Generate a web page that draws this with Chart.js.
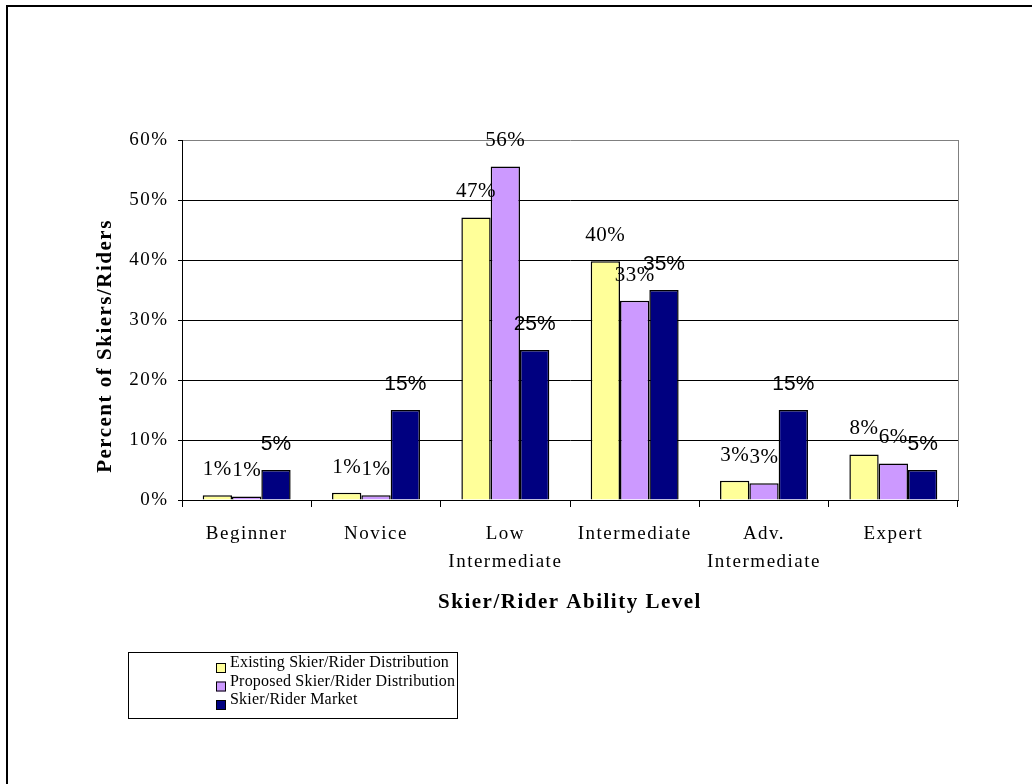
<!DOCTYPE html>
<html>
<head>
<meta charset="utf-8">
<script src="https://cdn.jsdelivr.net/npm/chart.js@4.4.1/dist/chart.umd.min.js"></script>
<style>
  html, body { margin: 0; padding: 0; background: #fff; }
  canvas { display: block; }
</style>
</head>
<body>
<canvas id="chart" width="1032" height="784"></canvas>
<script>
const categories = ['Beginner', 'Novice', ['Low', 'Intermediate'], 'Intermediate', ['Adv.', 'Intermediate'], 'Expert'];
const seriesNames = ['Existing Skier/Rider Distribution', 'Proposed Skier/Rider Distribution', 'Skier/Rider Market'];
const existing = [0.8, 1.2, 47.1, 39.8, 3.2, 7.6];
const proposed = [0.6, 0.8, 55.6, 33.2, 2.8, 6.1];
const market = [5, 15, 25, 35, 15, 5];
const yTicks = [0, 10, 20, 30, 40, 50, 60];
const colors = ['#FFFF99', '#CC99FF', '#000080'];

const SERIF = '"Liberation Serif", "Times New Roman", serif';
const SANS = '"Liberation Sans", Arial, sans-serif';

// labels, legend box, frame and y title drawn on top of the chart
const decorations = {
  id: 'decorations',
  beforeDraw(chart) {
    chart.ctx.letterSpacing = '1.5px';
  },
  afterDatasetsDraw(chart) {
    const ctx = chart.ctx;
    ctx.save();
    ctx.textAlign = 'center';
    ctx.textBaseline = 'alphabetic';
    ctx.fillStyle = '#000';
    chart.data.datasets.forEach((ds, i) => {
      const meta = chart.getDatasetMeta(i);
      ctx.font = i === 2 ? '21px ' + SANS : '21px ' + SERIF;
      ctx.letterSpacing = i === 2 ? '0px' : '0.5px';
      meta.data.forEach((bar, j) => {
        ctx.fillText(Math.round(ds.data[j]) + '%', bar.x, bar.y - 20);
      });
    });
    ctx.restore();
  },
  afterDraw(chart) {
    const ctx = chart.ctx;
    const area = chart.chartArea;
    ctx.save();
    // gray right border of plot
    ctx.strokeStyle = '#808080';
    ctx.lineWidth = 1;
    ctx.beginPath();
    ctx.moveTo(area.right + 0.5, area.top);
    ctx.lineTo(area.right + 0.5, area.bottom);
    ctx.stroke();

    // y axis title
    ctx.fillStyle = '#000';
    ctx.font = 'bold 21px ' + SERIF;
    ctx.letterSpacing = '1.5px';
    ctx.textAlign = 'center';
    ctx.textBaseline = 'middle';
    ctx.translate(106, 346);
    ctx.rotate(-Math.PI / 2);
    ctx.fillText('Percent of Skiers/Riders', 0, 0);
    ctx.setTransform(1, 0, 0, 1, 0, 0);

    // legend
    ctx.strokeStyle = '#000';
    ctx.strokeRect(128.5, 652.5, 329, 66);
    ctx.font = '16px ' + SERIF;
    ctx.letterSpacing = '0.2px';
    ctx.textAlign = 'left';
    ctx.textBaseline = 'alphabetic';
    seriesNames.forEach((name, i) => {
      const cy = 668 + i * 18.5;
      ctx.fillStyle = colors[i];
      ctx.fillRect(216, cy - 5, 10, 10);
      ctx.strokeRect(216.5, cy - 4.5, 9, 9);
      ctx.fillStyle = '#000';
      ctx.fillText(name, 230, cy - 1);
    });

    // outer frame
    ctx.fillStyle = '#000';
    ctx.fillRect(6, 5, 1026, 2);
    ctx.fillRect(6, 5, 2, 779);
    ctx.restore();
  }
};

new Chart(document.getElementById('chart'), {
  type: 'bar',
  data: {
    labels: categories,
    datasets: [
      { label: seriesNames[0], data: existing, backgroundColor: colors[0] },
      { label: seriesNames[1], data: proposed, backgroundColor: colors[1] },
      { label: seriesNames[2], data: market, backgroundColor: colors[2] }
    ].map(d => Object.assign(d, {
      borderColor: '#000',
      borderWidth: 1.5,
      categoryPercentage: 0.68,
      barPercentage: 1
    }))
  },
  options: {
    responsive: false,
    animation: false,
    layout: { padding: { left: 0, top: 140, right: 74, bottom: 0 } },
    plugins: {
      legend: { display: false },
      tooltip: { enabled: false },
      title: { display: false }
    },
    scales: {
      x: {
        afterFit: s => { s.height = 284; },
        grid: { drawOnChartArea: false, drawTicks: true, tickLength: 7, tickColor: '#000', offset: true },
        border: { color: '#000', width: 1 },
        ticks: {
          color: '#000',
          maxRotation: 0,
          autoSkip: false,
          padding: 13.5,
          font: { family: SERIF, size: 19, lineHeight: 1.47 }
        },
        title: {
          display: true,
          text: 'Skier/Rider Ability Level',
          color: '#000',
          font: { family: SERIF, size: 21, weight: 'bold' },
          padding: { top: 0, bottom: 168.4 }
        }
      },
      y: {
        min: yTicks[0],
        max: yTicks[yTicks.length - 1],
        afterFit: s => { s.width = 182; },
        grid: {
          color: c => (c.tick && c.tick.value === 60 ? '#808080' : '#000'),
          tickColor: '#000',
          tickLength: 4,
          lineWidth: 1
        },
        border: { color: '#000', width: 1 },
        ticks: {
          stepSize: yTicks[1] - yTicks[0],
          color: '#000',
          padding: 9.5,
          font: { family: SERIF, size: 19 },
          callback: v => v + '%'
        }
      }
    }
  },
  plugins: [decorations]
});
</script>
</body>
</html>
